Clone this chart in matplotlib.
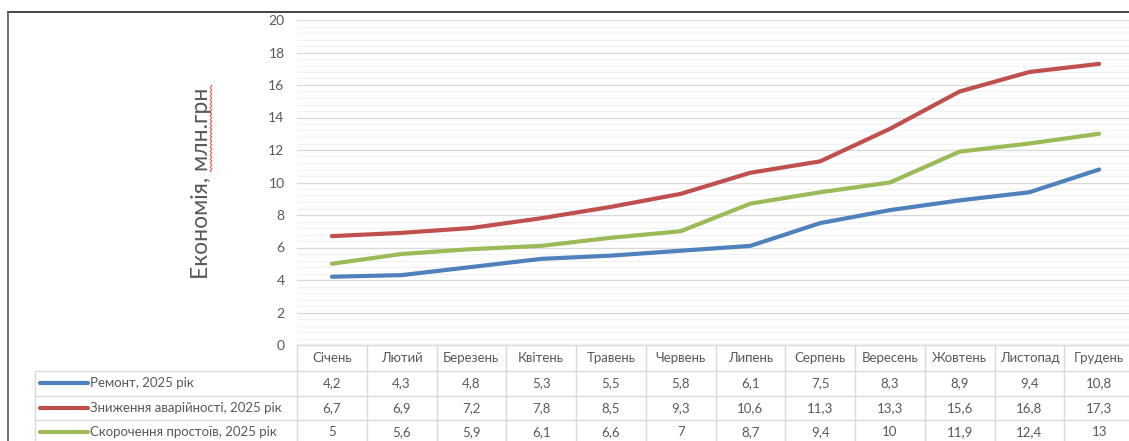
import matplotlib
matplotlib.use("Agg")
import numpy as np
import matplotlib.pyplot as plt
from matplotlib.transforms import blended_transform_factory
from matplotlib.lines import Line2D

months = ["Січень", "Лютий", "Березень", "Квітень", "Травень", "Червень",
          "Липень", "Серпень", "Вересень", "Жовтень", "Листопад", "Грудень"]
series_names = ["Ремонт, 2025 рік", "Зниження аварійності, 2025 рік", "Скорочення простоїв, 2025 рік"]
remont = [4.2, 4.3, 4.8, 5.3, 5.5, 5.8, 6.1, 7.5, 8.3, 8.9, 9.4, 10.8]
avar = [6.7, 6.9, 7.2, 7.8, 8.5, 9.3, 10.6, 11.3, 13.3, 15.6, 16.8, 17.3]
prostoi = [5, 5.6, 5.9, 6.1, 6.6, 7, 8.7, 9.4, 10, 11.9, 12.4, 13]
colors = ["#4F81BD", "#C0504D", "#9BBB59"]
y_ticks = list(range(0, 21, 2))
y_label = "Економія, млн.грн"

FONT = "Lato"
TXT = "#595959"
W, H = 1129, 441
fig = plt.figure(figsize=(W / 100, H / 100), dpi=100)

def fx(px):
    return px / W

def fy(py):
    return 1 - py / H

left_px, right_px, top_px, bottom_px = 297, 1134, 20, 345
ax = fig.add_axes([fx(left_px), fy(bottom_px), fx(right_px - left_px), fy(top_px) - fy(bottom_px)])
ax.set_xlim(-0.5, len(months) - 0.5)
ax.set_ylim(0, 20)
ax.set_yticks(y_ticks)
ax.set_yticklabels([str(t) for t in y_ticks], fontfamily=FONT, fontsize=10, color=TXT)
ax.set_yticks([v * 0.4 for v in range(51)], minor=True)
ax.tick_params(axis="y", which="both", length=0, pad=9)
ax.set_xticks([])
ax.grid(axis="y", which="minor", color="#f2f2f2", lw=0.9)
ax.grid(axis="y", which="major", color="#d9d9d9", lw=0.9)
ax.set_axisbelow(True)
for s in ax.spines.values():
    s.set_visible(False)

data = [remont, avar, prostoi]
xs = list(range(len(months)))
for vals, c in zip(data, colors):
    ax.plot(xs, vals, color=c, lw=3.0, solid_capstyle="round", solid_joinstyle="round")

fig.text(fx(201), fy(183), y_label, rotation=90, ha="center", va="center",
         fontfamily=FONT, fontsize=16.5, color=TXT)

# spell-check squiggle under "млн.грн"
sq_y = np.linspace(85, 172, 120)
sq_x = 211 + 1.0 * np.sin((sq_y - 85) / 87 * 2 * np.pi * 22)
fig.add_artist(Line2D(fx(sq_x), fy(sq_y), color="#e0403a", lw=0.6))

# outer chart border
fig.add_artist(Line2D([fx(8), 1.0], [fy(12), fy(12)], color="#262626", lw=1.2))
fig.add_artist(Line2D([fx(8), fx(8)], [fy(12), 0], color="#595959", lw=1.2))

# data table
tr = blended_transform_factory(ax.transData, fig.transFigure)
grid_c = "#d9d9d9"
row_lines = [345, 371, 396, 420]
row_centers = [383, 408, 432]
header_center = 358
fig.add_artist(Line2D([fx(left_px), 1.0], [fy(345), fy(345)], color=grid_c, lw=1))
for ry in row_lines[1:]:
    fig.add_artist(Line2D([fx(35), 1.0], [fy(ry), fy(ry)], color=grid_c, lw=1))
for i in range(len(months) + 1):
    fig.add_artist(Line2D([i - 0.5, i - 0.5], [fy(345), 0], color=grid_c, lw=1, transform=tr))
fig.add_artist(Line2D([fx(35), fx(35)], [fy(371), 0], color=grid_c, lw=1))

for i, m in enumerate(months):
    fig.text(i, fy(header_center), m, transform=tr, ha="center", va="center",
             fontfamily=FONT, fontsize=9.5, color=TXT)
for r, (vals, c, name) in enumerate(zip(data, colors, series_names)):
    yc = fy(row_centers[r])
    fig.add_artist(Line2D([fx(40), fx(88)], [yc, yc], color=c, lw=3.0, solid_capstyle="round"))
    fig.text(fx(90), yc, name, ha="left", va="center", fontfamily=FONT, fontsize=9.5, color=TXT)
    for i, v in enumerate(vals):
        s = ("%g" % v).replace(".", ",")
        fig.text(i, yc, s, transform=tr, ha="center", va="center",
                 fontfamily=FONT, fontsize=9.5, color=TXT)

fig.savefig("out.png", dpi=100, facecolor="white")
